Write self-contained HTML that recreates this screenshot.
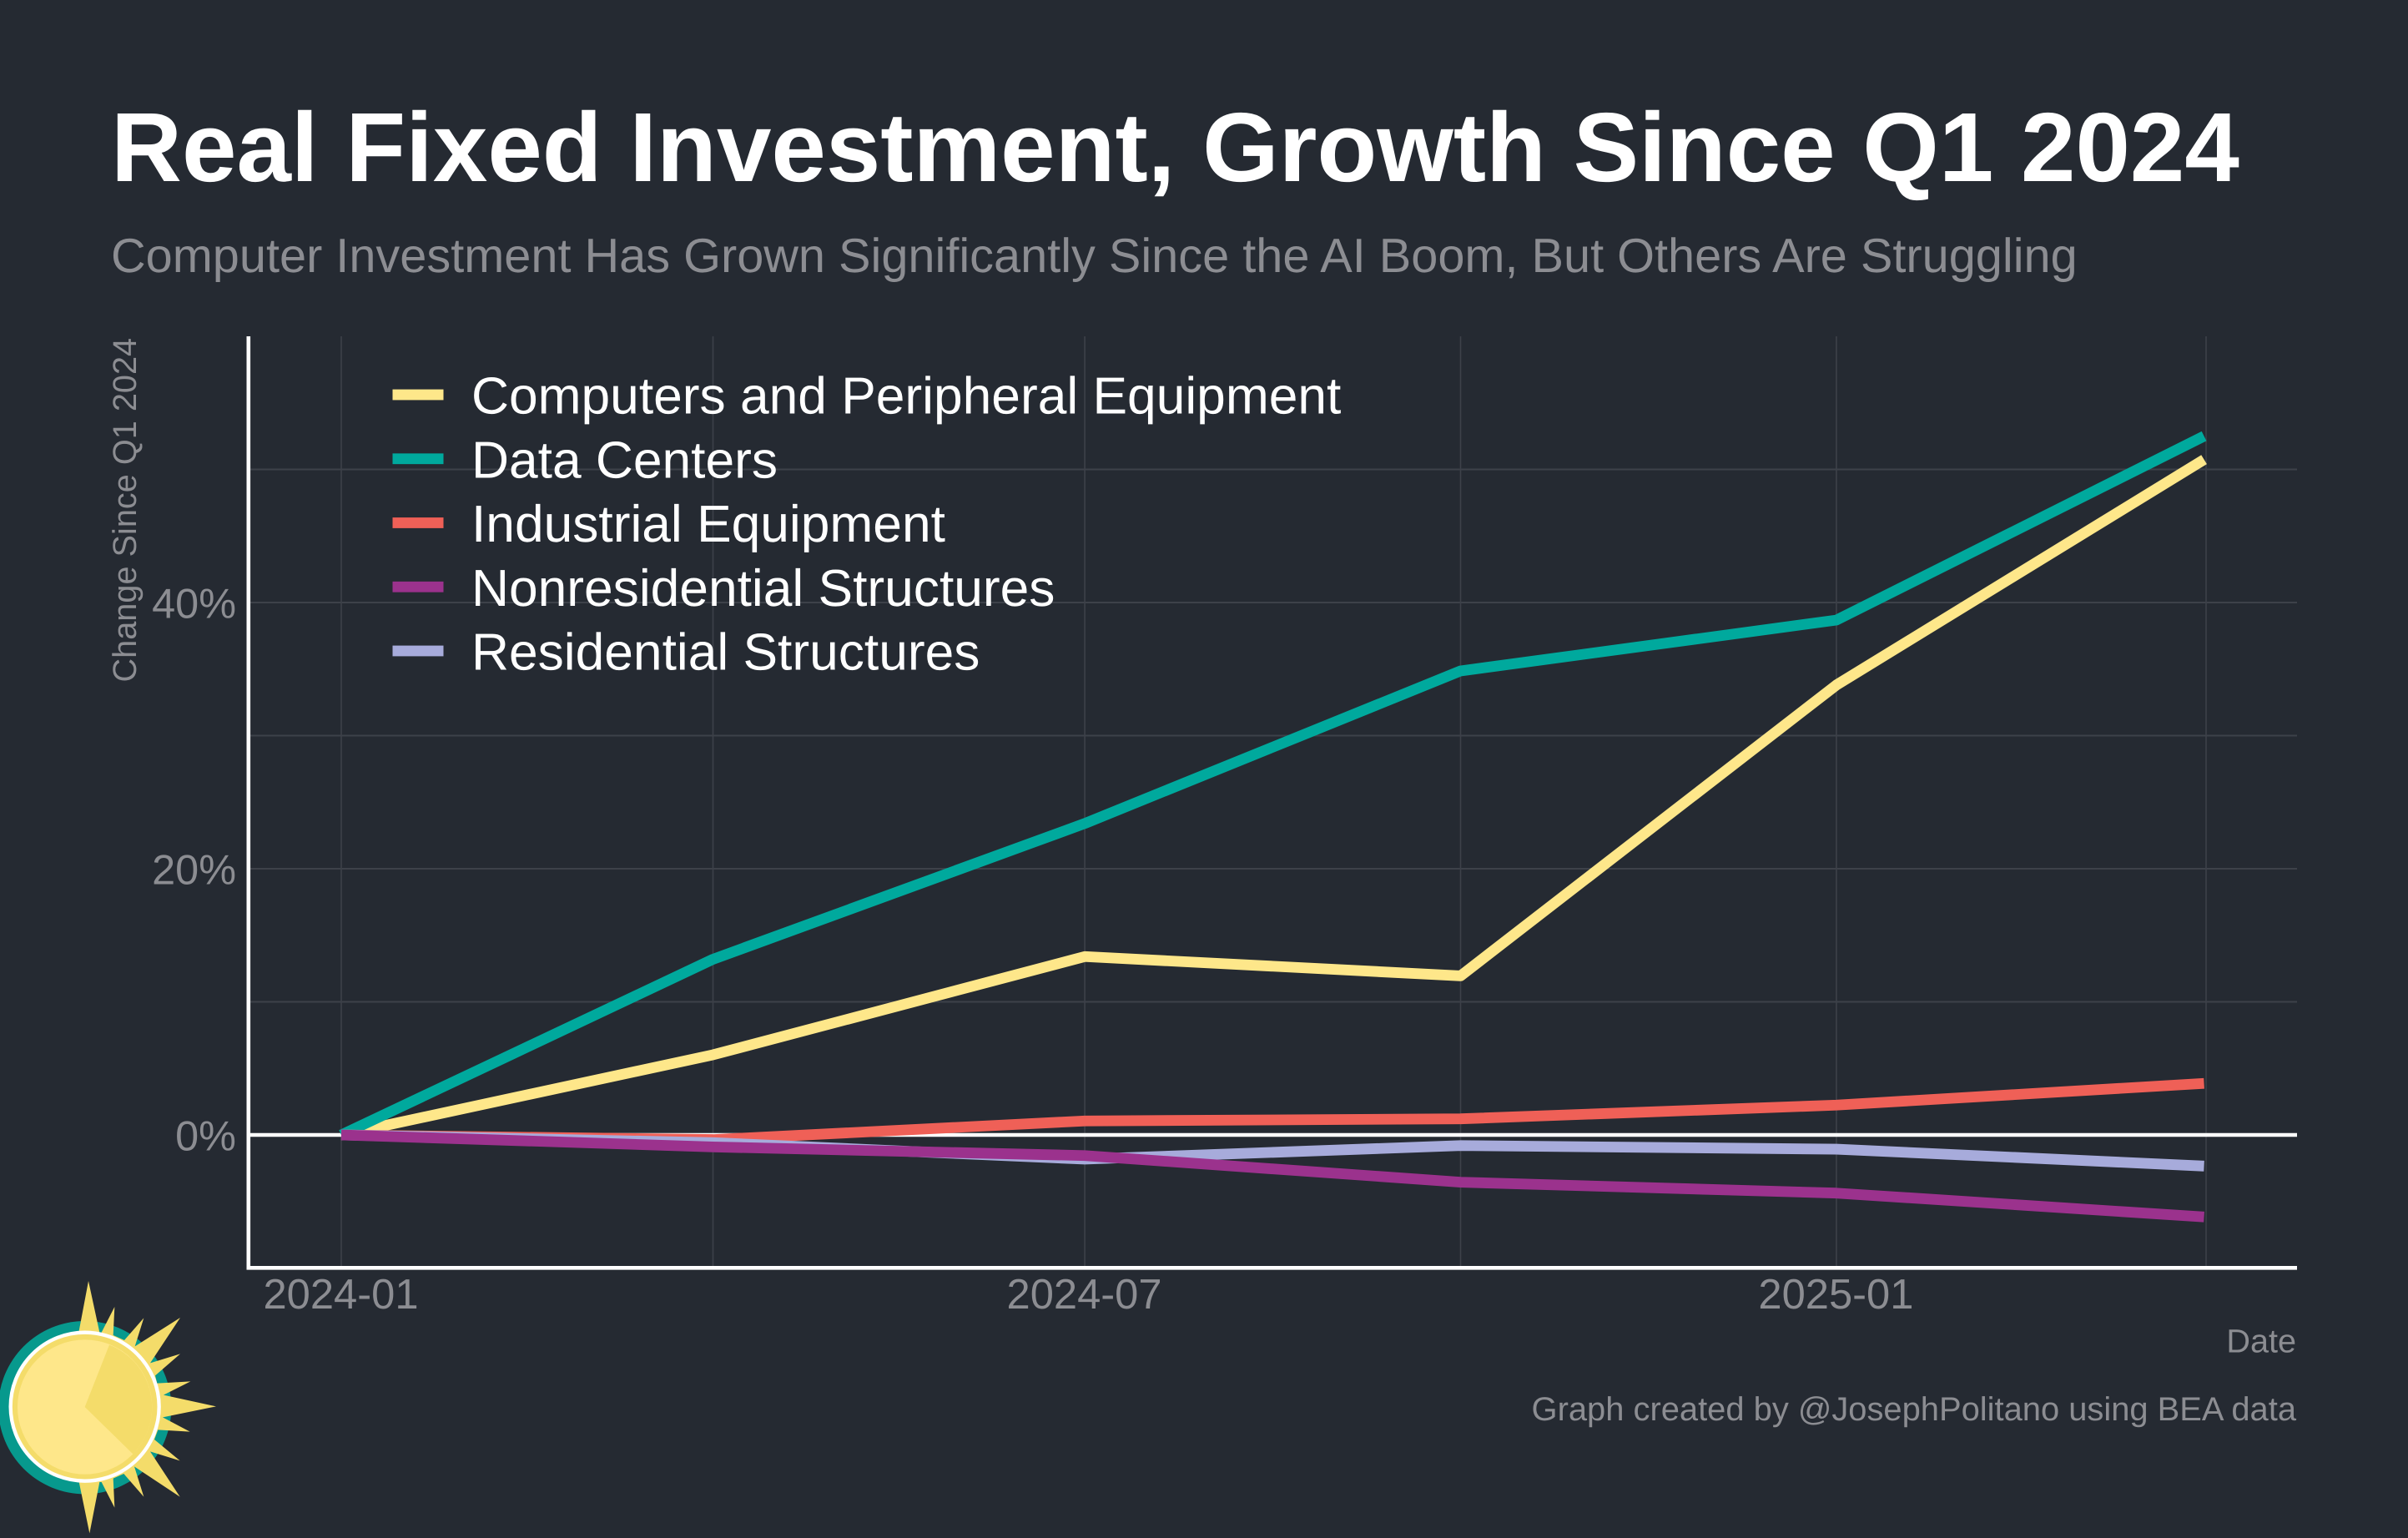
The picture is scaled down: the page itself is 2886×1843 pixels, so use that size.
<!DOCTYPE html>
<html lang="en">
<head>
<meta charset="utf-8">
<title>Real Fixed Investment, Growth Since Q1 2024</title>
<style>
html,body{margin:0;padding:0;background:#252a32;}
body{width:2886px;height:1843px;overflow:hidden;}
svg{display:block;}
text{font-family:"Liberation Sans",Arial,sans-serif;text-rendering:geometricPrecision;}
</style>
</head>
<body>
<svg id="chart" xmlns="http://www.w3.org/2000/svg" width="2886" height="1843" viewBox="0 0 2886 1843">
  <rect x="0" y="0" width="2886" height="1843" fill="#252a32"/>
  <text x="133" y="217" font-size="117.7" font-weight="700" fill="#ffffff">Real Fixed Investment, Growth Since Q1 2024</text>
  <text x="133" y="326" font-size="57.7" fill="#8c8d92">Computer Investment Has Grown Significantly Since the AI Boom, But Others Are Struggling</text>
  <g id="grid"></g>
  <g id="zero"></g>
  <g id="series"></g>
  <g id="axes"></g>
  <g id="legend"></g>
  <text transform="translate(163,817.5) rotate(-90)" font-size="39.7" fill="#8c8d92">Change Since Q1 2024</text>
  <text x="2752" y="1620.5" text-anchor="end" font-size="39.6" fill="#8c8d92">Date</text>
  <text x="2752" y="1702" text-anchor="end" font-size="39.9" fill="#8c8d92">Graph created by @JosephPolitano using BEA data</text>
  <g transform="translate(0,1480) scale(0.33333)">
    <circle cx="305" cy="620" r="311" fill="#07998d"/>
    <polygon fill="#f4dc6a" points="318,165 358,350 365,350 412,258 407,360 447,378 517,298 485,400 648,297 540,460 648,427 558,505 565,533 685,526 588,575 777,616 585,655 683,707 568,700 555,735 647,811 540,778 647,941 483,832 517,941 445,858 407,875 412,980 365,888 358,888 322,1072 285,892 283,350"/>
    <circle cx="305" cy="617" r="267" fill="#f4dc6a" stroke="#ffffff" stroke-width="13"/>
    <circle cx="305" cy="618" r="242" fill="#fee78a"/>
    <path d="M305,618 L393,395 A240,240 0 0 1 478,787 Z" fill="#f4dc6a"/>
  </g>
</svg>
<script>
// ---- chart data ----
var dayOffsets = [0, 91, 182, 274, 366, 456];
var gridDays = [0, 91, 182, 274, 366, 456.5];
var gridValues = [0, 10, 20, 30, 40, 50];
var yTickValues = [0, 20, 40];
var yTickLabels = ['0%', '20%', '40%'];
var xTickDays = [0, 182, 366];
var xTickLabels = ['2024-01', '2024-07', '2025-01'];
var legendNames = ['Computers and Peripheral Equipment', 'Data Centers', 'Industrial Equipment', 'Nonresidential Structures', 'Residential Structures'];
var computersValues = [0, 6.02, 13.4, 11.95, 33.8, 50.74];
var dataCentersValues = [0, 13.2, 23.4, 34.86, 38.68, 52.5];
var industrialValues = [0, -0.35, 1.05, 1.21, 2.24, 3.87];
var nonresidentialValues = [0, -0.9, -1.55, -3.55, -4.37, -6.16];
var residentialValues = [0, -0.58, -1.82, -0.8, -1.07, -2.34];

// ---- axis functions ----
function xScale(day) { return 409 + day * 4.896; }
function yScale(value) { return 1360 - value * 15.95; }

var NS = 'http://www.w3.org/2000/svg';
function make(tag, parent, attrs) {
  var el = document.createElementNS(NS, tag);
  for (var k in attrs) { el.setAttribute(k, attrs[k]); }
  parent.appendChild(el);
  return el;
}

var gridGroup = document.getElementById('grid');
var zeroGroup = document.getElementById('zero');
var seriesGroup = document.getElementById('series');
var axesGroup = document.getElementById('axes');
var legendGroup = document.getElementById('legend');

gridValues.forEach(function (v) {
  var line = make('line', gridGroup, {x1: 298, x2: 2753, y1: yScale(v), y2: yScale(v), stroke: '#3d4149', 'stroke-width': 2});
  
  
});
gridDays.forEach(function (d) {
  var line = make('line', gridGroup, {x1: xScale(d), x2: xScale(d), y1: 403, y2: 1519, stroke: '#3d4149', 'stroke-width': 1.6});
  
  
});

var zeroLine = make('line', zeroGroup, {x1: 298, x2: 2753, y1: yScale(0), y2: yScale(0), stroke: '#ffffff', 'stroke-width': 4.6});



function drawSeries(values, color, name) {
  var pts = values.map(function (v, i) { return xScale(dayOffsets[i]) + ',' + yScale(v); }).join(' ');
  var line = make('polyline', seriesGroup, {points: pts, fill: 'none', stroke: color, 'stroke-width': 12.8, 'stroke-linejoin': 'round', 'stroke-linecap': 'butt'});
  
  
}
drawSeries(computersValues, '#fee78a', 'series-computers');
drawSeries(dataCentersValues, '#00a99d', 'series-data-centers');
drawSeries(industrialValues, '#ef6057', 'series-industrial-equipment');
drawSeries(residentialValues, '#a7abdb', 'series-residential-structures');
drawSeries(nonresidentialValues, '#9b328d', 'series-nonresidential-structures');

var yAxis = make('line', axesGroup, {x1: 297.8, x2: 297.8, y1: 403, y2: 1521.5, stroke: '#ffffff', 'stroke-width': 4.6});


var xAxis = make('line', axesGroup, {x1: 295.5, x2: 2753, y1: 1519.3, y2: 1519.3, stroke: '#ffffff', 'stroke-width': 4.6});



yTickValues.forEach(function (v, i) {
  var t = make('text', axesGroup, {x: 283, y: yScale(v) + 18.5, 'text-anchor': 'end', 'font-size': 50.4, fill: '#8c8d92'});
  t.textContent = yTickLabels[i];
  
  
});
xTickDays.forEach(function (d, i) {
  var t = make('text', axesGroup, {x: xScale(d) - 0.5, y: 1568, 'text-anchor': 'middle', 'font-size': 50.7, fill: '#8c8d92'});
  t.textContent = xTickLabels[i];
  
  
});

var legendColors = ['#fee78a', '#00a99d', '#ef6057', '#9b328d', '#a7abdb'];
legendNames.forEach(function (name, i) {
  var cy = 473 + i * 76.75;
  var swatch = make('rect', legendGroup, {x: 470.5, y: cy - 6.4, width: 61, height: 12.8, fill: legendColors[i]});
  
  
  var label = make('text', legendGroup, {x: 565, y: cy + 22.5, 'font-size': 62.3, fill: '#ffffff'});
  label.textContent = name;
  
  
});
</script>
</body>
</html>
